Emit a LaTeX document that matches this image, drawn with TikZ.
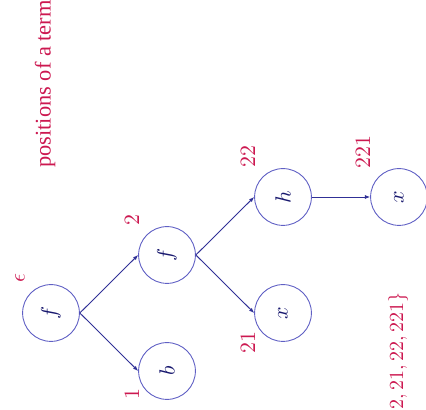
\documentclass[tikz,border=0pt]{standalone}
\usepackage{amsmath,amssymb}
\usepackage{fontspec}
\usepackage{xcolor}
\usetikzlibrary{arrows.meta,positioning}
\newfontfamily\slidefont{Liberation Serif}
\definecolor{treeblue}{RGB}{96,96,196}
\definecolor{edgeblue}{RGB}{48,48,150}
\definecolor{symblue}{RGB}{24,24,110}
\definecolor{posred}{RGB}{204,24,80}
\tikzset{
  tvertex/.style={circle,draw=treeblue,line width=.45pt,inner sep=1pt,minimum size=28.4pt,text=symblue,font=\fontsize{11}{13}\selectfont},
  tarrow/.style={-{Latex[length=2.6pt,width=2pt]},draw=edgeblue,line width=.45pt},
  poslabel/.style={text=posred,inner sep=0pt,font=\fontsize{11}{13}\selectfont}
}

\begin{document}
\begin{tikzpicture}[rotate=90,transform shape,on grid,node distance=58pt and 29pt]
  \path[use as bounding box] (-48.5pt,-187.5pt) rectangle (156.5pt,25.5pt);
  \clip (-48.5pt,-187.5pt) rectangle (156.5pt,25.5pt);
  % the term f(b, f(x, h(x)))
  \node[tvertex] (v) {$f$};
  \node[tvertex,below left=of v] (v1) {$b$};
  \node[tvertex,below right=of v] (v2) {$f$};
  \node[tvertex,below left=of v2] (v21) {$x$};
  \node[tvertex,below right=of v2] (v22) {$h$};
  \node[tvertex,below=of v22] (v221) {$x$};
  \draw[tarrow] (v.south)--(v1.north);
  \draw[tarrow] (v.south)--(v2.north);
  \draw[tarrow] (v2.south)--(v21.north);
  \draw[tarrow] (v2.south)--(v22.north);
  \draw[tarrow] (v22.south)--(v221.north);
  % positions
  \node[poslabel,above right=15.5pt and 17.5pt of v] (lv) {$\epsilon$};
  \node[poslabel,above left=17.5pt and 11.5pt of v1] (lv1) {$1$};
  \node[poslabel,above right=17.5pt and 17.5pt of v2] (lv2) {$2$};
  \node[poslabel,above left=17.5pt and 15pt of v21] (lv21) {$21$};
  \node[poslabel,above right=17.5pt and 20pt of v22] (lv22) {$22$};
  \node[poslabel,above right=18pt and 22.5pt of v221] (lv221) {$221$};
  \node[poslabel,anchor=west,font=\slidefont\fontsize{11.2}{13}\selectfont] (title) at (72.5pt,3pt) {positions of a term};
  \node[poslabel,anchor=east,font=\normalsize] (posset) at (10.5pt,-173.5pt) {$\{\epsilon, 1, 2, 21, 22, 221\}$};
\end{tikzpicture}
\end{document}
